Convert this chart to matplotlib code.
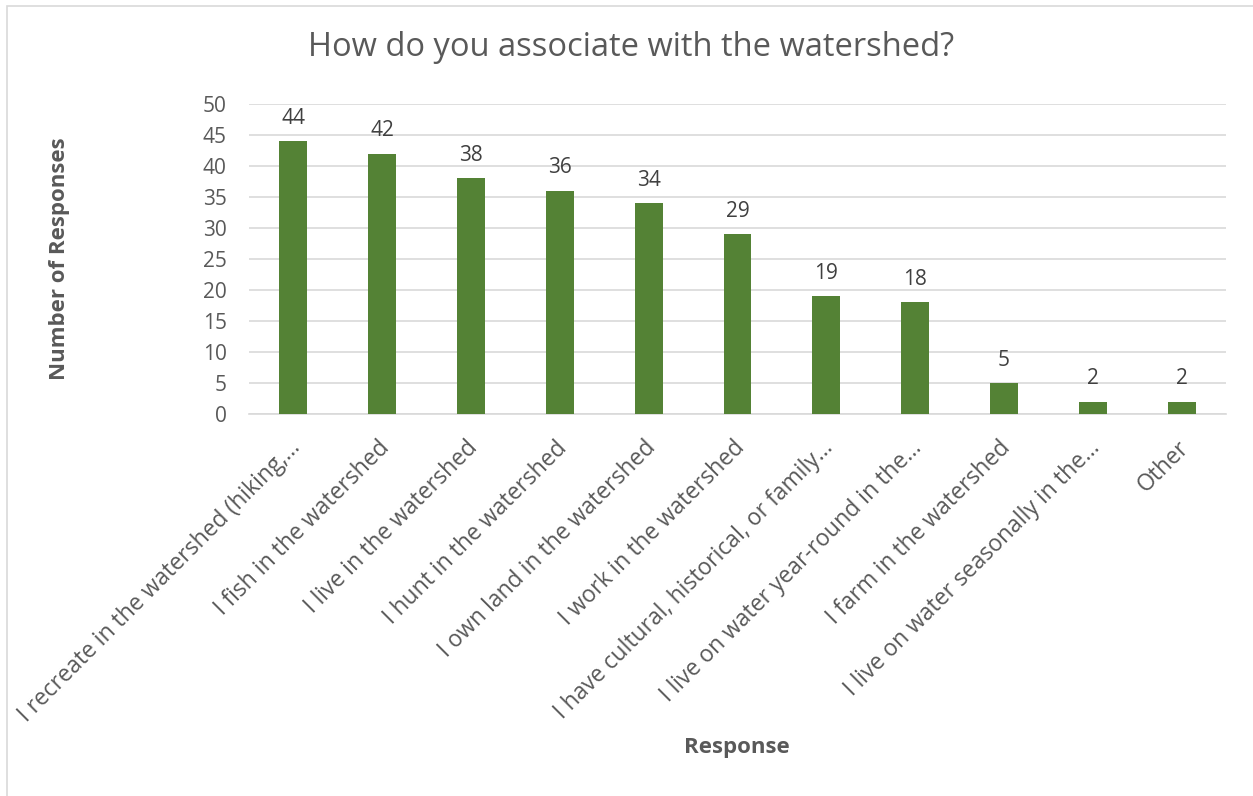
import matplotlib.pyplot as plt
import matplotlib.transforms as mtransforms
from matplotlib.patches import Rectangle

plt.rcParams['font.family'] = ['Open Sans', 'DejaVu Sans']

# Survey responses
responses = [
    "I recreate in the watershed (hiking,\u2026",
    "I fish in the watershed",
    "I live in the watershed",
    "I hunt in the watershed",
    "I own land in the watershed",
    "I work in the watershed",
    "I have cultural, historical, or family\u2026",
    "I live on water year-round in the\u2026",
    "I farm in the watershed",
    "I live on water seasonally in the\u2026",
    "Other",
]
counts = [44, 42, 38, 36, 34, 29, 19, 18, 5, 2, 2]
y_ticks = [0, 5, 10, 15, 20, 25, 30, 35, 40, 45, 50]

bar_color = '#548235'
text_color = '#595959'
grid_color = '#d9d9d9'

fig = plt.figure(figsize=(12.53, 7.96), dpi=100)
ax = fig.add_axes([249 / 1253, 1 - 414 / 796, 977 / 1253, 310 / 796])

# light frame around the chart area
fig.patches.append(Rectangle((7 / 1253, -0.05), 1.1, 1 - 6 / 796 + 0.05,
                             transform=fig.transFigure, fill=False,
                             edgecolor='#d9d9d9', linewidth=1.2))

x = list(range(len(responses)))
ax.bar(x, counts, width=0.315, color=bar_color, zorder=3)

for xi, c in zip(x, counts):
    ax.annotate(str(c), (xi, c), xytext=(0, 9), textcoords='offset points',
                ha='center', va='bottom', fontsize=15, color='#404040')

ax.set_xlim(-0.5, len(responses) - 0.5)
ax.set_ylim(0, 50)
ax.set_yticks(y_ticks)
ax.yaxis.grid(True, color=grid_color, linewidth=1.2, zorder=0)
ax.set_axisbelow(True)
for s in ['top', 'right', 'left']:
    ax.spines[s].set_visible(False)
ax.spines['bottom'].set_color(grid_color)
ax.spines['bottom'].set_linewidth(1.2)

ax.tick_params(axis='y', length=0, pad=16, labelsize=15, labelcolor=text_color)
ax.tick_params(axis='x', length=0, pad=0, labelsize=16.5, labelcolor=text_color)
ax.set_xticks(x)
ax.set_xticklabels(responses, rotation=45, ha='right', va='center',
                   rotation_mode='anchor')
shift = mtransforms.ScaledTranslation(2.5 / 72, -22 / 72, fig.dpi_scale_trans)
for lbl in ax.get_xticklabels():
    lbl.set_transform(lbl.get_transform() + shift)

fig.text(631 / 1253, 1 - 48 / 796, "How do you associate with the watershed?",
         ha='center', va='center', fontsize=23.5, color=text_color)
fig.text(59 / 1253, 1 - 259 / 796, "Number of Responses", rotation=90,
         ha='center', va='center', fontsize=16, fontweight='bold', color=text_color)
fig.text(737 / 1253, 1 - 748 / 796, "Response", ha='center', va='center',
         fontsize=16, fontweight='bold', color=text_color)

fig.savefig('out.png', dpi=100)
